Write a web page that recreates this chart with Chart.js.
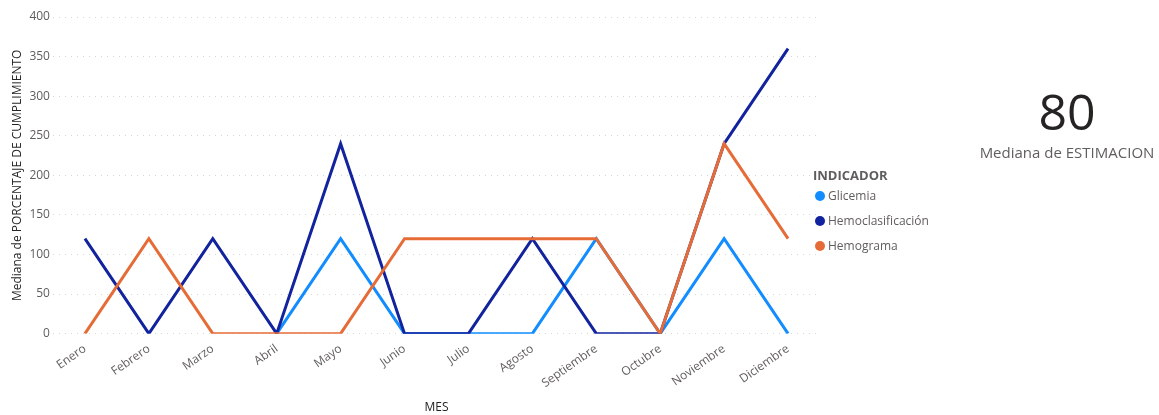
<!DOCTYPE html>
<html>
<head>
<meta charset="utf-8">
<script src="https://cdn.jsdelivr.net/npm/chart.js@4.4.0/dist/chart.umd.min.js"></script>
<style>
  html, body { margin: 0; padding: 0; background: #fff; }
  body { width: 1159px; height: 415px; position: relative; overflow: hidden; font-family: 'Open Sans', sans-serif; }
  #chartWrap { position: absolute; left: 0; top: 0; width: 1159px; height: 415px; }
  #legend { position: absolute; left: 813px; top: 167px; color: #605e5c; font-size: 12px; }
  #legend .title { font-weight: bold; font-size: 13px; line-height: 16px; color: #605e5c; margin-bottom: 0; }
  #legend .item { display: flex; align-items: center; height: 25px; }
  #legend .dot { width: 10px; height: 10px; border-radius: 50%; margin-right: 3px; margin-left: 2px; }
  #kpi { position: absolute; left: 960px; top: 81px; width: 214px; text-align: center; }
  #kpi .value { font-size: 50px; color: #252423; line-height: 60px; }
  #kpi .label { font-size: 15px; color: #605e5c; margin-top: 1px; }
</style>
</head>
<body>
<div id="chartWrap"><canvas id="lineChart"></canvas></div>
<div id="legend"></div>
<div id="kpi"><div class="value" id="kpiValue"></div><div class="label" id="kpiLabel"></div></div>
<script>
const months = ['Enero', 'Febrero', 'Marzo', 'Abril', 'Mayo', 'Junio', 'Julio', 'Agosto', 'Septiembre', 'Octubre', 'Noviembre', 'Diciembre'];
const glicemia = [null, null, null, 0, 120, 0, 0, 0, 120, 0, 120, 0];
const hemoclasificacion = [120, 0, 120, 0, 240, 0, 0, 120, 0, 0, 240, 360];
const hemograma = [0, 120, 0, 0, 0, 120, 120, 120, 120, 0, 240, 120];
const yTicks = [0, 50, 100, 150, 200, 250, 300, 350, 400];
const kpiValue = 80;
const kpiLabel = 'Mediana de ESTIMACION';

const seriesColors = ['#118DFF', '#12239E', '#E66C37'];

const ctx = document.getElementById('lineChart').getContext('2d');
const chart = new Chart(ctx, {
  type: 'line',
  data: {
    labels: months,
    datasets: [
      { label: 'Glicemia', data: glicemia, borderColor: seriesColors[0], backgroundColor: seriesColors[0], order: 3 },
      { label: 'Hemoclasificación', data: hemoclasificacion, borderColor: seriesColors[1], backgroundColor: seriesColors[1], order: 2 },
      { label: 'Hemograma', data: hemograma, borderColor: seriesColors[2], backgroundColor: seriesColors[2], order: 1 }
    ]
  },
  options: {
    responsive: true,
    maintainAspectRatio: false,
    animation: false,
    layout: { padding: { left: 10, right: 339, top: 17, bottom: 0 } },
    elements: {
      line: { borderWidth: 3, tension: 0, borderJoinStyle: 'miter' },
      point: { radius: 0 }
    },
    plugins: {
      legend: { display: false },
      tooltip: { enabled: false }
    },
    scales: {
      x: {
        offset: true,
        grid: { display: false },
        border: { display: false },
        ticks: {
          color: '#605e5c',
          font: { family: 'Open Sans', size: 12 },
          minRotation: 35,
          maxRotation: 35,
          padding: 0
        },
        title: {
          display: true,
          text: 'MES',
          color: '#252423',
          font: { family: 'Open Sans', size: 12 },
          padding: { top: 10, bottom: 0 }
        }
      },
      y: {
        min: 0,
        max: 400,
        afterBuildTicks: (axis) => { axis.ticks = yTicks.map(v => ({ value: v })); },
        grid: {
          color: '#d6d6d6',
          lineWidth: 1,
          drawTicks: false
        },
        border: { display: false, dash: [1, 5] },
        ticks: {
          color: '#605e5c',
          font: { family: 'Open Sans', size: 12 },
          padding: 3
        },
        title: {
          display: true,
          text: 'Mediana de PORCENTAJE DE CUMPLIMIENTO',
          color: '#252423',
          font: { family: 'Open Sans', size: 12 },
          padding: { top: 0, bottom: 2 }
        }
      }
    }
  }
});

// legend built from the chart's datasets
const legend = document.getElementById('legend');
legend.innerHTML = '<div class="title">INDICADOR</div>';
chart.data.datasets.forEach(ds => {
  const item = document.createElement('div');
  item.className = 'item';
  item.innerHTML = '<span class="dot" style="background:' + ds.borderColor + '"></span>' + ds.label;
  legend.appendChild(item);
});

document.getElementById('kpiValue').textContent = kpiValue;
document.getElementById('kpiLabel').textContent = kpiLabel;
</script>
</body>
</html>
